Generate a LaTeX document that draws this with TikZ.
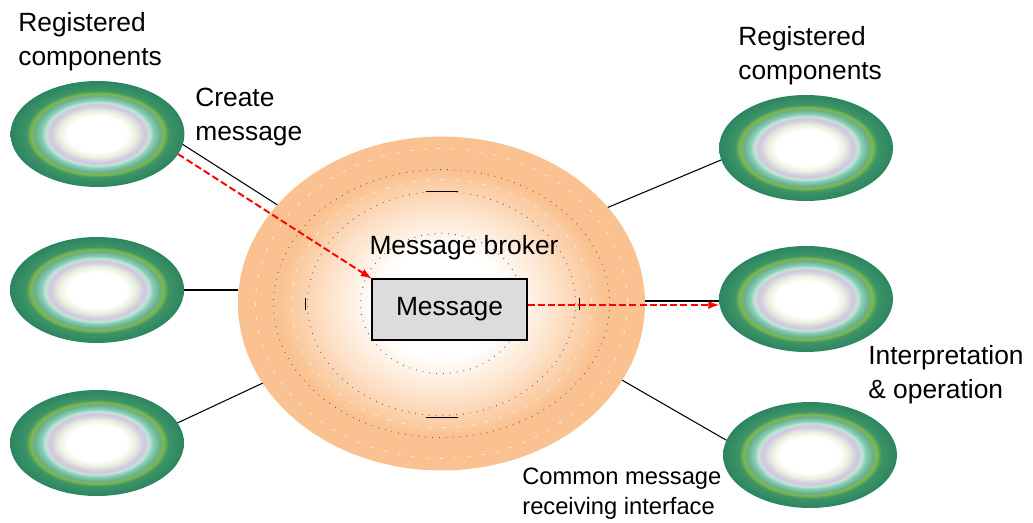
\documentclass[tikz,border=0pt]{standalone}
\usepackage{fontspec}
\setmainfont{Liberation Sans}
\usetikzlibrary{shapes.geometric}

\definecolor{gdark}{HTML}{2B8560}
\definecolor{gmid}{HTML}{3E9468}
\definecolor{glime}{HTML}{7DB94A}
\definecolor{gband}{HTML}{6BAE8A}
\definecolor{gteal}{HTML}{86CFBA}
\definecolor{gmist}{HTML}{C5E3D6}
\definecolor{glav}{HTML}{D0C6E0}
\definecolor{gyel}{HTML}{EAF1DE}
\definecolor{obase}{HTML}{FAC291}
\definecolor{opale}{HTML}{FDE3CB}
\definecolor{boxgray}{HTML}{DCDCDC}

\pgfdeclareradialshading{greenrings}{\pgfpoint{0bp}{0bp}}{color(0bp)=(white); color(8.5bp)=(white); color(11bp)=(gyel); color(13.5bp)=(glav); color(15bp)=(gmist); color(16bp)=(gteal); color(18bp)=(gband); color(19.2bp)=(glime); color(20.5bp)=(gmid); color(25bp)=(gdark); color(50bp)=(gdark)}
\pgfdeclareradialshading{brokerglow}{\pgfpoint{0bp}{0bp}}{color(0bp)=(white); color(8bp)=(white); color(14bp)=(opale); color(20bp)=(obase); color(25bp)=(obase); color(50bp)=(obase)}

\begin{document}
\begin{tikzpicture}[x=0.02cm,y=-0.02cm,font=\fontsize{15}{19.4}\selectfont,
  comp/.style={ellipse,inner sep=0pt,outer sep=0pt,minimum width=3.48cm,minimum height=2.12cm,shade,shading=greenrings},
  lbl/.style={align=left,inner sep=0pt,anchor=north west},
  link/.style={line width=0.6pt},
  msgflow/.style={red,line width=1.1pt,dash pattern=on 4pt off 1.8pt,-latex},
  ringdot/.style={black!65,line width=0.6pt,dash pattern=on 0.4pt off 3.5pt}]
\useasboundingbox (0,0) rectangle (1033,523);
\node[comp] (l1) at (97.5,134) {};
\node[comp] (l2) at (97,290) {};
\node[comp] (l3) at (97,443) {};
\node[comp] (r1) at (806,148) {};
\node[comp] (r2) at (806,299) {};
\node[comp] (r3) at (810,455) {};
\node[ellipse,inner sep=0pt,outer sep=0pt,minimum width=8.14cm,minimum height=6.68cm,shade,shading=brokerglow] (brk) at (441.5,303.5) {};
\foreach \rx/\ry in {81/70,134/112,168/134}
  \draw[ringdot] (brk.center) ellipse [x radius=\rx,y radius=\ry];
\foreach \rx/\ry in {150/124,186/155}
  \draw[white,opacity=0.7,line width=0.4pt,dash pattern=on 2pt off 6pt] (brk.center) ellipse [x radius=\rx,y radius=\ry];
\draw[link] (brk.center) ++(-16,-112) -- ++(32,0);
\draw[link] (brk.center) ++(-16,114) -- ++(32,0);
\draw[link] (brk.center) ++(-136,-6) -- ++(0,12);
\draw[link] (brk.center) ++(138,-6) -- ++(0,12);
\node (brklbl) at (464,248) {Message broker};
\node[draw,line width=0.6pt,fill=boxgray,minimum width=3.1cm,minimum height=1.22cm] (msg) at (449.5,309.5) {Message};
\draw[link] (l1.-7) -- (brk.149);
\draw[link] (l2.east) -- (l2.east -| brk.west);
\draw[link] (l3.14) -- (brk.204);
\draw[link] (brk.30) -- (r1.188);
\draw[link] ([yshift=-0.04cm]r2.west -| brk.east) -- ([yshift=-0.04cm]r2.west);
\draw[link] (brk.-23) -- (r3.170);
\draw[msgflow] (l1.-14) -- (msg.north west);
\draw[msgflow] ([yshift=0.09cm]msg.east) -- ([yshift=0.09cm]msg.east -| r2.west);
\node[lbl] (regl) at (18,12) {Registered\\components};
\node[lbl] (create) at (195,88) {Create\\message};
\node[lbl] (regr) at (738,26) {Registered\\components};
\node[lbl] (interp) at (868,345) {Interpretation\\\& operation};
\node[lbl,font=\fontsize{13.5}{17}\selectfont] (iface) at (522,468) {Common message\\receiving interface};
\end{tikzpicture}
\end{document}
